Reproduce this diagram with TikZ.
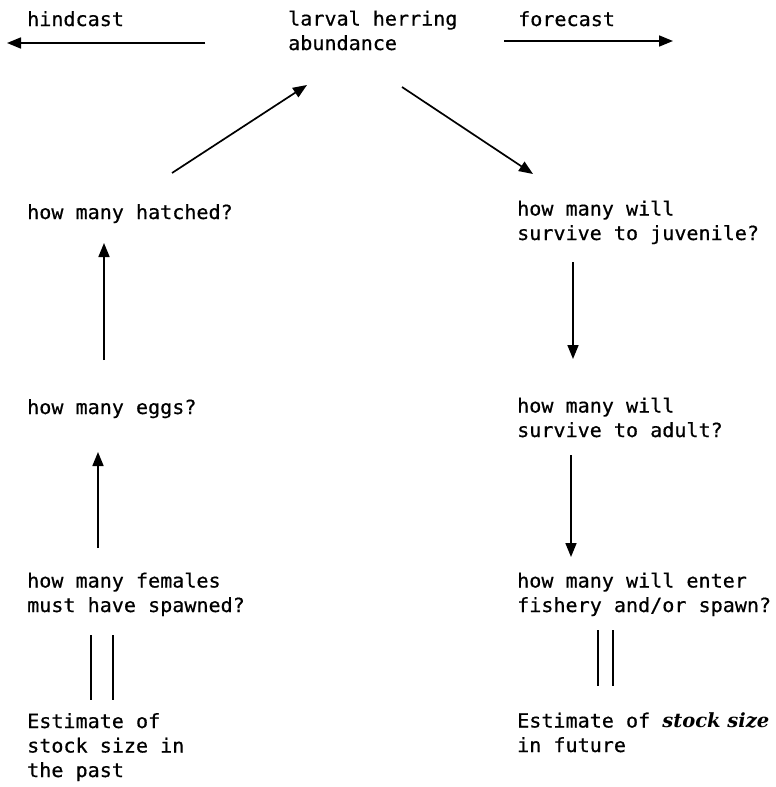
\documentclass[tikz,border=0pt]{standalone}
\usepackage{fontspec}
\usetikzlibrary{arrows.meta}
\newfontfamily\tw[FakeStretch=1.03,FakeBold=0.6]{DejaVu Sans Mono}
\newfontfamily\hand{DejaVu Serif}
\begin{document}
\begin{tikzpicture}[x=1pt,y=-1pt,
  txt/.style={anchor=base west,inner sep=0pt,align=left,font=\tw\fontsize{19.5}{24.5}\selectfont},
  arr/.style={line width=1.7pt,-{Triangle[length=14pt,width=11pt]}},
  rail/.style={line width=1.7pt}]
\useasboundingbox (0,0) rectangle (776,787);
% texts (base anchor = baseline of last line)
\node[txt] (hind) at (27,26) {hindcast};
\node[txt] (larv) at (288,50) {larval herring\\abundance};
\node[txt] (fore) at (518,26) {forecast};
\node[txt] (hatch) at (27,219) {how many hatched?};
\node[txt] (eggs) at (27,414) {how many eggs?};
\node[txt] (fem) at (27,612) {how many females\\must have spawned?};
\node[txt] (estp) at (27,777) {Estimate of\\stock size in\\the past};
\node[txt] (juv) at (517,240) {how many will\\survive to juvenile?};
\node[txt] (adu) at (517,437) {how many will\\survive to adult?};
\node[txt] (fish) at (517,612) {how many will enter\\fishery and/or spawn?};
\node[txt] (estf) at (517,752) {Estimate of {\hand\bfseries\itshape stock size}\\in future};
% connector ends
\coordinate (hs) at (205,43); \coordinate (he) at (7,43);
\coordinate (fs) at (504,41); \coordinate (fe) at (673,41);
\coordinate (d1s) at (172,173); \coordinate (d1e) at (307,85);
\coordinate (d2s) at (402,87); \coordinate (d2e) at (533,174);
\coordinate (v1s) at (104,360); \coordinate (v1e) at (104,243);
\coordinate (v2s) at (98,548); \coordinate (v2e) at (98,452);
\coordinate (v3s) at (573,262); \coordinate (v3e) at (573,359);
\coordinate (v4s) at (571,455); \coordinate (v4e) at (571,557);
% arrows
\draw[arr] (hs) -- (he);
\draw[line width=2.6pt] (hs) -- ++(-72,0);
\draw[arr] (fs) -- (fe);
\draw[arr] (d1s) -- (d1e);
\draw[arr] (d2s) -- (d2e);
\draw[arr] (v1s) -- (v1e);
\draw[arr] (v2s) -- (v2e);
\draw[arr] (v3s) -- (v3e);
\draw[arr] (v4s) -- (v4e);
% equality rails
\coordinate (l1a) at (91,635); \coordinate (l1b) at (91,700);
\coordinate (l2a) at (113,635); \coordinate (l2b) at (113,700);
\coordinate (r1a) at (598,630); \coordinate (r1b) at (598,686);
\coordinate (r2a) at (613,630); \coordinate (r2b) at (613,686);
\draw[rail] (l1a) -- (l1b);
\draw[rail] (l2a) -- (l2b);
\draw[rail] (r1a) -- (r1b);
\draw[rail] (r2a) -- (r2b);
\end{tikzpicture}
\end{document}
